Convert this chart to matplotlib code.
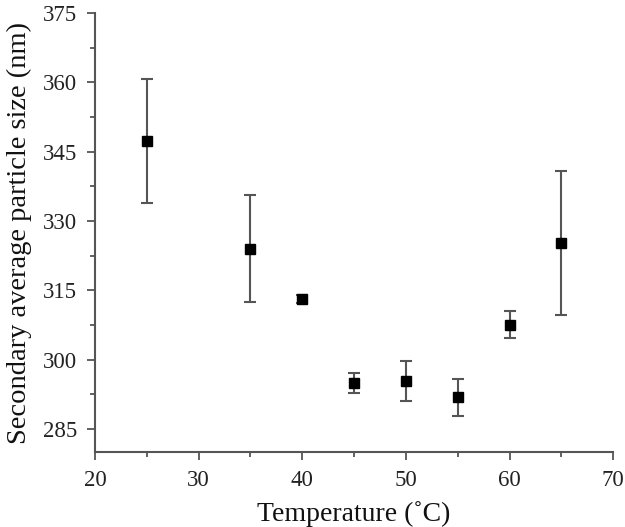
import matplotlib
matplotlib.use("Agg")
import matplotlib.pyplot as plt
from matplotlib.ticker import MultipleLocator

temperature = [25, 35, 40, 45, 50, 55, 60, 65]
size_nm = [347.3, 324.0, 313.1, 294.9, 295.4, 291.9, 307.6, 325.2]
size_err = [13.4, 11.6, 0.9, 2.1, 4.3, 4.0, 2.9, 15.6]

plt.rcParams['font.family'] = ['Liberation Serif', 'DejaVu Serif']

fig = plt.figure(figsize=(6.25, 5.27), dpi=100)
ax = fig.add_axes([0.152, 0.1423, 0.829, 0.8327])

ax.errorbar(temperature, size_nm, yerr=size_err, fmt='s', color='black',
            markersize=7, ecolor='#555555', elinewidth=1.5, capsize=4,
            capthick=1.5)

ax.set_xlim(20, 70)
ax.set_ylim(280, 375)
ax.xaxis.set_major_locator(MultipleLocator(10))
ax.xaxis.set_minor_locator(MultipleLocator(5))
ax.yaxis.set_major_locator(MultipleLocator(15))
ax.yaxis.set_minor_locator(MultipleLocator(7.5))
ax.set_yticks([285, 300, 315, 330, 345, 360, 375])

for s in ['top', 'right']:
    ax.spines[s].set_visible(False)
for s in ['left', 'bottom']:
    ax.spines[s].set_color('#555555')
    ax.spines[s].set_linewidth(1.5)

ax.tick_params(which='major', direction='out', length=6, width=1.3,
               color='#555555', labelsize=16.5, labelcolor='#222222', pad=7)
ax.tick_params(which='minor', direction='out', length=3.5, width=1.3,
               color='#555555')

ax.set_xlabel('Temperature (\u02daC)', fontsize=20, color='#111111', labelpad=7)
ax.set_ylabel('Secondary average particle size (nm)', fontsize=20.5,
              color='#111111', labelpad=8)

fig.savefig('out.png', dpi=100)
